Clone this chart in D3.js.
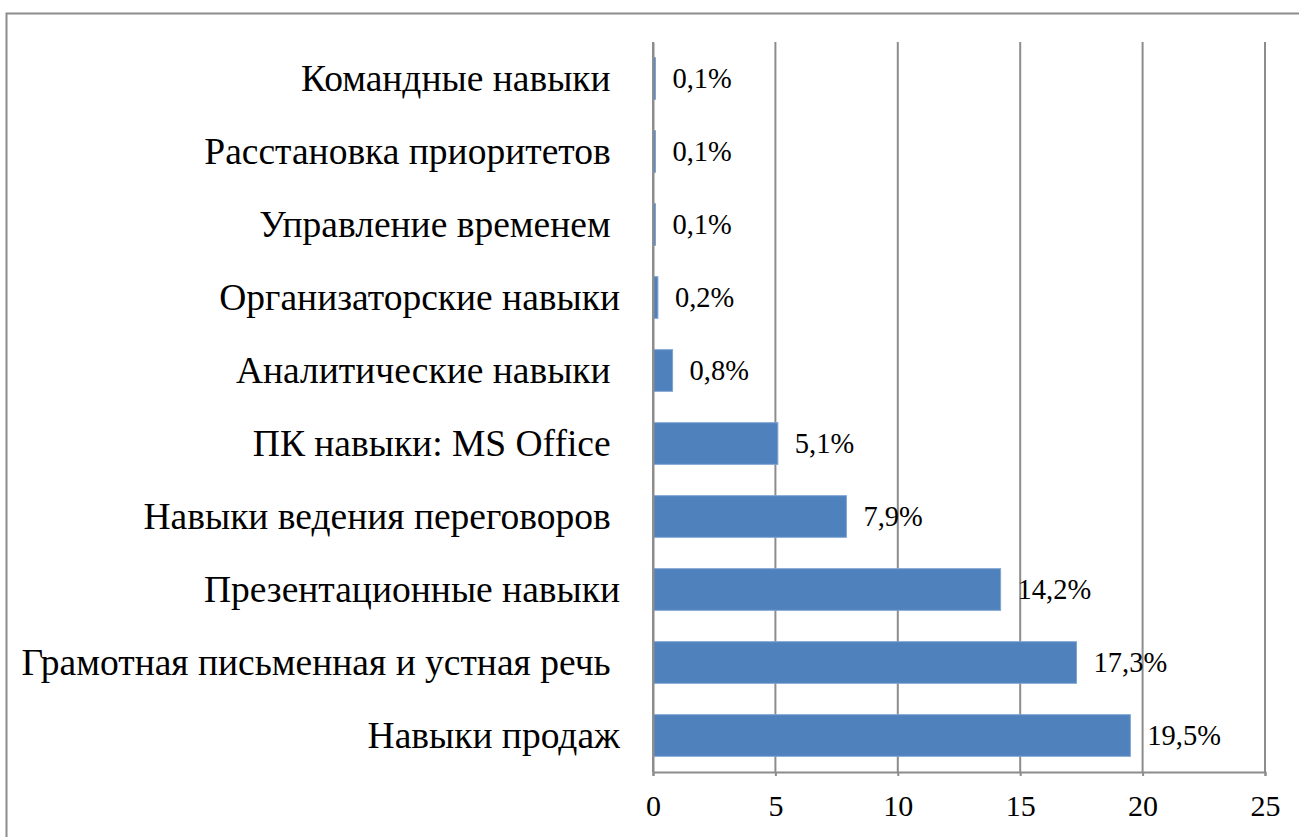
<!DOCTYPE html>
<html lang="ru">
<head>
    <meta charset="UTF-8">
    <script src="https://d3js.org/d3.v7.min.js"></script>
    <title>Навыки</title>
    <style>
        body { margin: 0; background: #fff; }
        text { font-family: "Liberation Serif", "Times New Roman", serif; fill: #000; }
        .cat { white-space: pre; }
    </style>
</head>
<body>
<div id="chart"></div>
<script>
// categories listed top to bottom (trailing spaces kept as in the source chart)
const categories = [
    "Командные навыки ",
    "Расстановка приоритетов ",
    "Управление временем ",
    "Организаторские навыки",
    "Аналитические навыки ",
    "ПК навыки: MS Office ",
    "Навыки ведения переговоров ",
    "Презентационные навыки",
    "Грамотная письменная и устная речь ",
    "Навыки продаж"
];
const values = [0.1, 0.1, 0.1, 0.2, 0.8, 5.1, 7.9, 14.2, 17.3, 19.5];
const valueLabels = ["0,1%", "0,1%", "0,1%", "0,2%", "0,8%", "5,1%", "7,9%", "14,2%", "17,3%", "19,5%"];
const xTicks = [0, 5, 10, 15, 20, 25];

const W = 1299, H = 837;
const margin = { top: 42, right: 34, bottom: 65, left: 653 };
const width = W - margin.left - margin.right;
const height = H - margin.top - margin.bottom;

const svg = d3.select("#chart").append("svg")
    .attr("width", W)
    .attr("height", H);

// outer chart border
svg.append("rect")
    .attr("x", 6.5).attr("y", 13.5)
    .attr("width", W + 20).attr("height", H + 20)
    .attr("fill", "none")
    .attr("stroke", "#8c8c8c")
    .attr("stroke-width", 2);

const g = svg.append("g")
    .attr("transform", `translate(${margin.left},${margin.top})`);

const x = d3.scaleLinear().domain([0, 25]).range([0, width]);
const y = d3.scaleBand().domain(categories).range([0, height]).paddingInner(0.43).paddingOuter(0.215);

// vertical gridlines
g.selectAll(".grid")
    .data(xTicks)
    .enter().append("line")
    .attr("x1", d => x(d)).attr("x2", d => x(d))
    .attr("y1", 0).attr("y2", height)
    .attr("stroke", "#8c8c8c")
    .attr("stroke-width", 2);

// bars
g.selectAll(".bar")
    .data(values)
    .enter().append("rect")
    .attr("x", x(0))
    .attr("y", (d, i) => y(categories[i]))
    .attr("width", d => x(d) - x(0))
    .attr("height", y.bandwidth())
    .attr("fill", "#4f81bd")
    .attr("stroke", "#7ea3d2")
    .attr("stroke-width", 1);

// value labels
g.selectAll(".val")
    .data(values)
    .enter().append("text")
    .attr("x", d => x(d) + 17)
    .attr("y", (d, i) => y(categories[i]) + y.bandwidth() / 2)
    .attr("dy", "0.35em")
    .attr("font-size", 28.5)
    .text((d, i) => valueLabels[i]);

// x axis
const xAxis = g.append("g")
    .attr("transform", `translate(0,${height})`)
    .call(d3.axisBottom(x).tickValues(xTicks).tickSize(4).tickPadding(19));
xAxis.select(".domain").attr("stroke", "#8c8c8c").attr("stroke-width", 2);
xAxis.selectAll(".tick line").attr("stroke", "#8c8c8c").attr("stroke-width", 2);
xAxis.selectAll(".tick text")
    .attr("font-family", "Liberation Serif, serif")
    .attr("font-size", 30)
    .attr("fill", "#000");

// y axis
const yAxis = g.append("g")
    .call(d3.axisLeft(y).tickSize(0).tickPadding(33));
yAxis.select(".domain").attr("stroke", "#8c8c8c").attr("stroke-width", 2);
yAxis.selectAll(".tick text")
    .attr("class", "cat")
    .attr("font-family", "Liberation Serif, serif")
    .attr("font-size", 37.5)
    .attr("fill", "#000");
</script>
</body>
</html>
